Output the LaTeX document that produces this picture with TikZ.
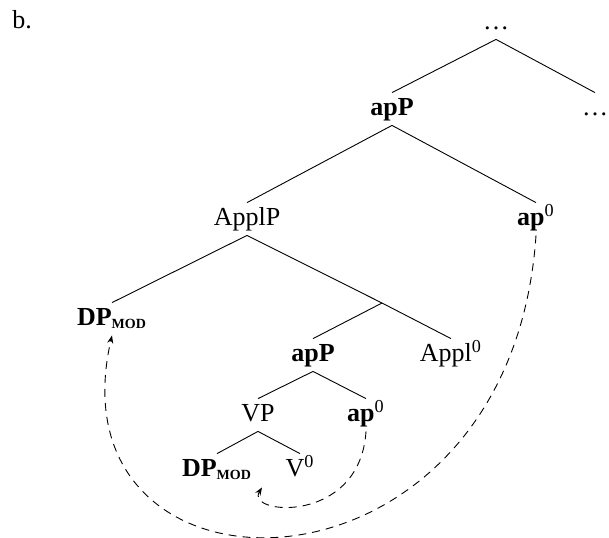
\documentclass[tikz,border=0pt]{standalone}
\usepackage{fontspec}
\setmainfont{Liberation Serif}
\usetikzlibrary{arrows.meta,calc}
\newcommand{\modsub}{\textsubscript{\textbf{\fontsize{7}{8}\selectfont MOD}}}
\begin{document}
\begin{tikzpicture}[x=0.5pt,y=-0.5pt,
  lab/.style={anchor=base,inner sep=1.5pt,text height=9.5pt,text depth=3.5pt,font=\fontsize{13}{15.5}\selectfont},
  br/.style={line width=0.45pt},
  mv/.style={line width=0.45pt,dash pattern=on 4pt off 3pt,-{Stealth[length=4pt,width=3pt]}}]
\useasboundingbox (0,0) rectangle (609,537);
\node[lab,anchor=base west,inner sep=0pt] (lbl) at (12,28) {b.};
\node[lab] (top) at (496,29) {\ldots};
\node[lab] (apP1) at (392,115) {\textbf{apP}};
\node[lab] (rdots) at (595,115) {\ldots};
\node[lab] (ApplP) at (247,225) {ApplP};
\node[lab] (ap0a) at (536,225) {\textbf{ap}\textsuperscript{0}};
\node[lab] (DP1) at (112,325) {\textbf{DP}\modsub};
\coordinate (Abar) at (382,303);
\node[lab] (apP2) at (313,361) {\textbf{apP}};
\node[lab] (Appl0) at (451,361) {Appl\textsuperscript{0}};
\node[lab] (VP) at (258,421) {VP};
\node[lab] (ap0b) at (366,421) {\textbf{ap}\textsuperscript{0}};
\node[lab] (DP2) at (217,476) {\textbf{DP}\modsub};
\node[lab] (V0) at (300,476) {V\textsuperscript{0}};
\coordinate (tipb) at ($(DP2.south)+(45,1)$);
\draw[br] (top.south) -- (apP1.north);
\draw[br] (top.south) -- (rdots.north);
\draw[br] (apP1.south) -- (ApplP.north);
\draw[br] (apP1.south) -- (ap0a.north);
\draw[br] (ApplP.south) -- (DP1.north);
\draw[br] (ApplP.south) -- (Abar);
\draw[br] (Abar) -- (Appl0.north);
\draw[br] (Abar) -- (apP2.north);
\draw[br] (apP2.south) -- (VP.north);
\draw[br] (apP2.south) -- (ap0b.north);
\draw[br] (VP.south) -- (DP2.north);
\draw[br] (VP.south) -- (V0.north);
\draw[mv] (ap0a.south) .. controls (510,619) and (47,619) .. (DP1.south);
\draw[mv] (ap0b.south) .. controls (360,525) and (245,515) .. (tipb);
\end{tikzpicture}
\end{document}
